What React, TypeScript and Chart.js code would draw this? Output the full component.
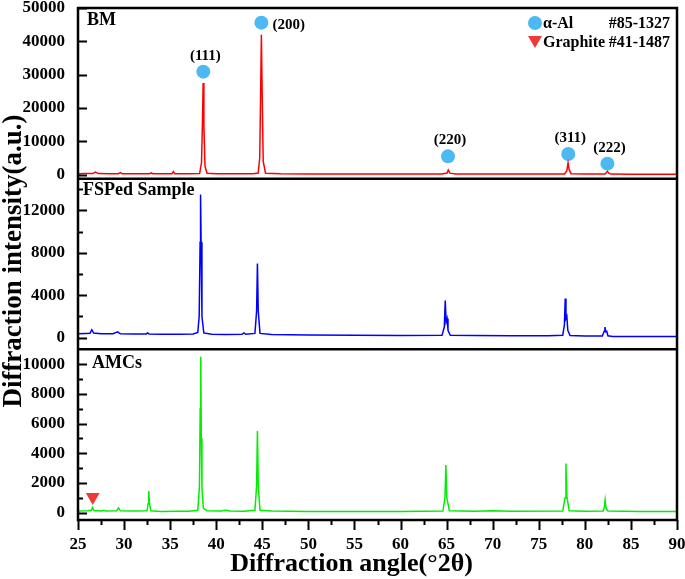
import { useEffect, useRef } from 'react';
import { Chart, registerables } from 'chart.js';

Chart.register(...registerables);

// Diffraction angle (°2θ), intensity (a.u.)
const bmPoints: [number, number][] = [
  [25, 300], [25.8, 320], [26.6, 330], [26.9, 750], [27.2, 330], [28.5, 300], [29.4, 310], [29.6, 600],
  [29.8, 300], [31.5, 280], [32.8, 290], [32.95, 550], [33.1, 280], [34.5, 290], [35.2, 310], [35.35, 900],
  [35.5, 290], [37, 290], [38.2, 350], [38.4, 3500], [38.5, 15000], [38.58, 27500], [38.66, 15000],
  [38.78, 2500], [39, 400], [40, 280], [42, 270], [44, 280], [44.55, 500], [44.72, 5000], [44.82, 25000],
  [44.9, 42000], [44.98, 25000], [45.1, 4000], [45.35, 450], [47, 250], [50, 230], [55, 220], [60, 210],
  [64.5, 210], [65.05, 500], [65.18, 1400], [65.35, 450], [66, 200], [70, 190], [75, 180], [77.8, 200],
  [78.05, 1200], [78.18, 3500], [78.3, 1500], [78.5, 300], [80, 180], [82.2, 180], [82.45, 1000],
  [82.6, 450], [82.8, 170], [85, 150], [90, 150],
];
const fspPoints: [number, number][] = [
  [25, 380], [25.8, 400], [26.3, 420], [26.5, 750], [26.7, 430], [27.5, 380], [28.8, 370], [29.3, 550],
  [29.6, 370], [31, 350], [32.4, 350], [32.55, 450], [32.7, 350], [34, 330], [36, 330], [37.5, 350],
  [38.0, 500], [38.15, 2000], [38.25, 9000], [38.3, 13500], [38.36, 9000], [38.45, 2000], [38.65, 450],
  [39.5, 330], [41, 300], [42.8, 320], [43.0, 450], [43.2, 320], [44.2, 400], [44.38, 2500], [44.47, 7000],
  [44.56, 2500], [44.75, 400], [46, 300], [50, 260], [55, 230], [60, 210], [64.5, 220], [64.75, 1000],
  [64.85, 3500], [64.95, 1500], [65.05, 1800], [65.15, 700], [65.4, 220], [68, 200], [72, 180], [76, 180],
  [77.6, 220], [77.78, 1200], [77.87, 3700], [77.95, 1800], [78.05, 2000], [78.15, 700], [78.4, 200],
  [80, 150], [81.9, 160], [82.1, 600], [82.18, 1000], [82.28, 550], [82.38, 600], [82.5, 180], [83, 120],
  [86, 110], [90, 100],
];
const amcPoints: [number, number][] = [
  [25, 100], [26, 120], [26.45, 150], [26.58, 350], [26.72, 140], [27.6, 110], [27.8, 160], [28, 100],
  [29.2, 130], [29.4, 320], [29.6, 120], [31, 100], [32.5, 120], [32.6, 600], [32.68, 1450], [32.76, 600],
  [32.9, 120], [34, 80], [35.8, 90], [37, 90], [38.0, 150], [38.18, 1800], [38.26, 7000], [38.32, 10500],
  [38.38, 5000], [38.45, 1700], [38.6, 300], [39, 120], [40.5, 100], [41, 150], [41.5, 100], [43, 90],
  [44.2, 150], [44.38, 1800], [44.47, 5500], [44.56, 1800], [44.75, 150], [46, 100], [50, 80], [55, 80],
  [60, 80], [64.6, 100], [64.82, 1000], [64.92, 3200], [65.02, 1000], [65.3, 120], [68, 90], [70, 120],
  [72, 90], [77.6, 110], [77.85, 1000], [77.95, 3300], [78.05, 1100], [78.3, 120], [80, 90], [82, 100],
  [82.12, 400], [82.2, 850], [82.3, 300], [82.5, 100], [86, 80], [90, 80],
];

const alPeakAngles = [38.6, 44.9, 65.15, 78.2, 82.45];
const alMarkerHeights = [30900, 45600, 5500, 6200, 3300];
const alPeakLabels = ['(111)', '(200)', '(220)', '(311)', '(222)'];
const graphiteAngles = [26.6];
const graphiteMarkerHeights = [1050];

// tick values (labelled = major, others = minor)
const xTickValues = [25, 27.5, 30, 32.5, 35, 37.5, 40, 42.5, 45, 47.5, 50, 52.5, 55, 57.5, 60, 62.5, 65, 67.5, 70, 72.5, 75, 77.5, 80, 82.5, 85, 87.5, 90];
const xTickLabels = [25, 30, 35, 40, 45, 50, 55, 60, 65, 70, 75, 80, 85, 90];
const yTopTickValues = [0, 10000, 20000, 30000, 40000, 50000];
const yTopTickLabels = [0, 10000, 20000, 30000, 40000, 50000];
const yMidTickValues = [0, 2000, 4000, 6000, 8000, 10000, 12000, 14000];
const yMidTickLabels = [0, 4000, 8000, 12000];
const yBotTickValues = [0, 1000, 2000, 3000, 4000, 5000, 6000, 7000, 8000, 9000, 10000];
const yBotTickLabels = [0, 2000, 4000, 6000, 8000, 10000];

const panelNames = ['BM', 'FSPed Sample', 'AMCs'];
const legendNames = ['α-Al', 'Graphite'];
const legendCards = ['#85-1327', '#41-1487'];
const xTitle = 'Diffraction angle(°2θ)';
const yTitle = 'Diffraction intensity(a.u.)';

const FONT = '"Liberation Serif", "Times New Roman", serif';
const BLUE_MARK = '#4db9f2';
const RED_MARK = '#f03a3a';

export default function App() {
  const ref = useRef<HTMLCanvasElement>(null);

  useEffect(() => {
    const canvas = ref.current!;
    const panelIds = ['yTop', 'yMid', 'yBot'];
    const labelSets: Record<string, number[]> = {
      x: xTickLabels,
      yTop: yTopTickLabels,
      yMid: yMidTickLabels,
      yBot: yBotTickLabels,
    };

    const fitY = (s: any) => {
      s.width = 78;
      s.paddingTop = 0;
      s.paddingBottom = 0;
      s.paddingLeft = 0;
      s.paddingRight = 0;
    };

    const yScale = (id: string, min: number, max: number, values: number[], weight: number) => ({
      type: 'linear' as const,
      position: 'left' as const,
      stack: 'panels',
      stackWeight: 1,
      weight,
      min,
      max,
      border: { display: false },
      grid: { display: false, drawTicks: false },
      ticks: {
        autoSkip: false,
        padding: 13,
        color: '#000',
        font: { family: FONT, size: 17, weight: 'bold' as const },
        callback: (v: any) => (labelSets[id].includes(v) ? String(v) : ''),
      },
      afterBuildTicks: (s: any) => {
        s.ticks = values.map((value) => ({ value }));
      },
      afterFit: fitY,
    });

    const plugin = {
      id: 'xrdDecor',
      afterDraw(chart: any) {
        const { ctx, chartArea: a, scales } = chart;
        ctx.save();
        ctx.strokeStyle = '#000';
        ctx.fillStyle = '#000';
        // y ticks (inside)
        ctx.lineWidth = 2;
        panelIds.forEach((id) => {
          const s = scales[id];
          s.ticks.forEach((t: any) => {
            const py = Math.round(s.getPixelForValue(t.value)) + 0.5;
            const major = labelSets[id].includes(t.value);
            ctx.beginPath();
            ctx.moveTo(a.left, py);
            ctx.lineTo(a.left + (major ? 9 : 5), py);
            ctx.stroke();
          });
        });
        // x ticks (outside)
        const xs = scales.x;
        xs.ticks.forEach((t: any) => {
          const px = Math.round(xs.getPixelForValue(t.value)) + 0.5;
          const major = labelSets.x.includes(t.value);
          ctx.beginPath();
          ctx.moveTo(px, a.bottom);
          ctx.lineTo(px, a.bottom + (major ? 10 : 5));
          ctx.stroke();
        });
        // frame and separators
        ctx.lineWidth = 2.5;
        ctx.strokeRect(a.left, a.top, a.right - a.left, a.bottom - a.top);
        [scales.yMid.top, scales.yBot.top].forEach((y: number) => {
          ctx.beginPath();
          ctx.moveTo(a.left, y);
          ctx.lineTo(a.right, y);
          ctx.stroke();
        });
        // panel names
        ctx.font = `bold 18px ${FONT}`;
        ctx.textBaseline = 'middle';
        ctx.textAlign = 'left';
        const nameX = [9, 5, 14];
        const nameDy = [12, 12, 14];
        panelIds.forEach((id, i) => {
          ctx.fillText(panelNames[i], a.left + nameX[i], scales[id].top + nameDy[i]);
        });
        // peak labels
        ctx.font = `bold 15px ${FONT}`;
        const yt = scales.yTop;
        alPeakAngles.forEach((ang, i) => {
          const px = xs.getPixelForValue(ang);
          const py = yt.getPixelForValue(alMarkerHeights[i]);
          if (i === 1) {
            ctx.textAlign = 'left';
            ctx.fillText(alPeakLabels[i], px + 11, py + 2);
          } else {
            ctx.textAlign = 'center';
            ctx.fillText(alPeakLabels[i], px + 2, py - 16);
          }
        });
        // legend
        ctx.font = `bold 16px ${FONT}`;
        const lx = 535;
        const ly = [23, 42];
        ctx.fillStyle = BLUE_MARK;
        ctx.beginPath();
        ctx.arc(lx, ly[0], 7, 0, Math.PI * 2);
        ctx.fill();
        ctx.fillStyle = RED_MARK;
        ctx.beginPath();
        ctx.moveTo(lx - 7, ly[1] - 6);
        ctx.lineTo(lx + 7, ly[1] - 6);
        ctx.lineTo(lx, ly[1] + 6);
        ctx.closePath();
        ctx.fill();
        ctx.fillStyle = '#000';
        legendNames.forEach((n, i) => {
          ctx.textAlign = 'left';
          ctx.fillText(n, lx + 8, ly[i] + 1);
          ctx.textAlign = 'right';
          ctx.fillText(legendCards[i], 670, ly[i] + 1);
        });
        // axis titles
        ctx.font = `bold 26px ${FONT}`;
        ctx.textAlign = 'center';
        ctx.fillText(xTitle, (a.left + a.right) / 2 - 26, 564);
        ctx.save();
        ctx.font = `bold 27px ${FONT}`;
        ctx.translate(14, 261);
        ctx.rotate(-Math.PI / 2);
        ctx.fillText(yTitle, 0, 0);
        ctx.restore();
        ctx.restore();
      },
    };

    const chart = new Chart(canvas, {
      type: 'line',
      data: {
        datasets: [
          { data: bmPoints, yAxisID: 'yTop', borderColor: '#ff0000', borderWidth: 1.5, pointRadius: 0, tension: 0 },
          { data: fspPoints, yAxisID: 'yMid', borderColor: '#0000ff', borderWidth: 1.5, pointRadius: 0, tension: 0 },
          { data: amcPoints, yAxisID: 'yBot', borderColor: '#00ee00', borderWidth: 1.5, pointRadius: 0, tension: 0 },
          {
            type: 'scatter',
            data: alPeakAngles.map((x, i) => ({ x, y: alMarkerHeights[i] })),
            yAxisID: 'yTop',
            backgroundColor: BLUE_MARK,
            borderWidth: 0,
            pointRadius: 7,
            showLine: false,
          },
          {
            type: 'scatter',
            data: graphiteAngles.map((x, i) => ({ x, y: graphiteMarkerHeights[i] })),
            yAxisID: 'yBot',
            backgroundColor: RED_MARK,
            borderWidth: 0,
            pointRadius: 8,
            pointStyle: 'triangle',
            rotation: 180,
            showLine: false,
          },
        ] as any,
      },
      options: {
        animation: false,
        responsive: false,
        layout: { padding: { top: 7, right: 8, left: 0, bottom: 0 } },
        plugins: { legend: { display: false }, tooltip: { enabled: false } },
        scales: {
          x: {
            type: 'linear',
            min: 25,
            max: 90,
            border: { display: false },
            grid: { display: false, drawTicks: false },
            ticks: {
              autoSkip: false,
              maxRotation: 0,
              padding: 14,
              color: '#000',
              font: { family: FONT, size: 17, weight: 'bold' },
              callback: (v: any) => (labelSets.x.includes(v) ? String(v) : ''),
            },
            afterBuildTicks: (s: any) => {
              s.ticks = xTickValues.map((value) => ({ value }));
            },
            afterFit: (s: any) => {
              s.height = 59;
              s.paddingLeft = 0;
              s.paddingRight = 0;
            },
          },
          yTop: yScale('yTop', -1200, 50000, yTopTickValues, 3),
          yMid: yScale('yMid', -1100, 15000, yMidTickValues, 2),
          yBot: yScale('yBot', -500, 11000, yBotTickValues, 1),
        } as any,
      },
      plugins: [plugin],
    });
    return () => chart.destroy();
  }, []);

  return (
    <canvas
      ref={ref}
      width={685}
      height={579}
      style={{ position: 'absolute', left: 0, top: 0, display: 'block', width: 685, height: 579 }}
    />
  );
}
